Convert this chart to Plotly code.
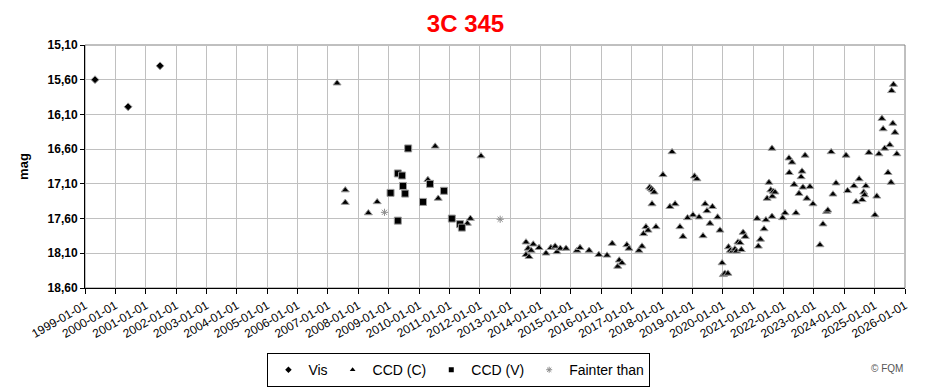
import plotly.graph_objects as go
import pandas as pd

# ---- data (decimal years, magnitudes) ----
vis_t = [1999.33, 2000.42, 2001.47]
vis_m = [15.60, 15.99, 15.40]

ccdc_t = [2007.30, 2007.57, 2007.57, 2008.33, 2008.62, 2010.53, 2010.29, 2010.63, 2012.04, 2011.59, 2011.69,
          2013.52, 2013.59, 2013.52, 2013.62, 2013.69, 2013.76, 2013.95, 2014.18, 2014.34, 2014.48, 2014.54,
          2014.65, 2014.84, 2015.20, 2015.30, 2015.60, 2015.92, 2016.19, 2016.36, 2016.54, 2016.59, 2016.68,
          2016.84, 2016.91, 2017.24, 2017.34, 2017.39, 2017.47, 2017.54, 2017.80, 2017.59, 2017.64, 2017.69,
          2017.74, 2017.67, 2018.03, 2018.33, 2018.26, 2018.43, 2018.59, 2018.69, 2018.84, 2019.02, 2019.07,
          2019.15, 2019.22, 2019.35, 2019.42, 2019.48, 2019.58, 2019.66, 2019.83, 2019.91, 2019.98, 2020.02,
          2020.07, 2020.17, 2020.19, 2020.25, 2020.32, 2020.40, 2020.45, 2020.50, 2020.57, 2020.61, 2020.67,
          2020.74, 2021.13, 2021.17, 2021.24, 2021.36, 2021.42, 2021.46, 2021.52, 2021.58, 2021.63, 2021.66,
          2021.72, 2021.62, 2021.62, 2021.97, 2022.05, 2022.18, 2022.28, 2022.19, 2022.35, 2022.41, 2022.51,
          2022.58, 2022.61, 2022.64, 2022.71, 2022.77, 2022.87, 2022.97, 2023.20, 2023.30, 2023.42, 2023.46,
          2023.57, 2023.63, 2023.73, 2024.06, 2024.11, 2024.32, 2024.39, 2024.49, 2024.59, 2024.64, 2024.67,
          2024.71, 2024.81, 2025.01, 2025.07, 2025.14, 2025.24, 2025.28, 2025.33, 2025.44, 2025.50, 2025.54,
          2025.56, 2025.60, 2025.62, 2025.67, 2025.73]
ccdc_m = [15.65, 17.19, 17.37, 17.52, 17.36, 16.56, 17.04, 17.31, 16.70, 17.67, 17.60,
          17.94, 18.03, 18.12, 18.15, 18.06, 17.97, 18.02, 18.10, 18.02, 18.00, 18.08,
          18.03, 18.03, 18.06, 18.02, 18.06, 18.12, 18.13, 17.96, 18.29, 18.20, 18.24,
          17.98, 18.03, 18.06, 18.00, 17.82, 17.72, 17.77, 17.72, 17.15, 17.17, 17.19,
          17.22, 17.39, 16.97, 16.64, 17.43, 17.39, 17.72, 17.86, 17.59, 17.55, 16.99,
          17.03, 17.58, 17.85, 17.39, 17.49, 17.67, 17.43, 17.58, 17.77, 18.24, 18.41,
          18.39, 18.39, 18.01, 18.06, 18.07, 18.04, 18.07, 17.94, 17.95, 18.05, 17.80,
          17.86, 17.60, 18.00, 17.90, 17.75, 17.62, 17.31, 17.08, 17.19, 17.28, 17.21,
          17.22, 17.57, 16.59, 17.59, 17.52, 16.73, 16.79, 16.94, 17.11, 17.52, 17.24,
          17.00, 16.92, 17.15, 16.69, 17.31, 17.14, 17.39, 17.98, 17.68, 17.50, 17.48,
          16.64, 17.25, 17.09, 16.69, 17.20, 17.13, 17.36, 17.03, 17.33, 17.22, 17.26,
          17.13, 16.65, 17.55, 17.28, 16.67, 16.16, 16.31, 16.59, 16.94, 16.54, 17.08,
          15.76, 16.23, 15.67, 16.36, 16.67]

ccdv_t = [2009.06, 2009.30, 2009.30, 2009.44, 2009.47, 2009.54, 2009.64, 2010.36, 2010.13, 2010.82,
          2011.08, 2011.35, 2011.41]
ccdv_m = [17.23, 17.63, 16.95, 16.98, 17.13, 17.24, 16.59, 17.10, 17.36, 17.20,
          17.60, 17.68, 17.73]

faint_t = [2008.86, 2012.67]
faint_m = [17.51, 17.61]

series_names = ["Vis", "CCD (C)", "CCD (V)", "Fainter than"]
x_ticks = [f"{y}-01-01" for y in range(1999, 2027)]
y_ticks = [15.10, 15.60, 16.10, 16.60, 17.10, 17.60, 18.10, 18.60]
y_ticklabels = ["15,10", "15,60", "16,10", "16,60", "17,10", "17,60", "18,10", "18,60"]


def to_date(years):
    out = []
    for y in years:
        yr = int(y)
        start = pd.Timestamp(f"{yr}-01-01")
        end = pd.Timestamp(f"{yr + 1}-01-01")
        out.append(start + (end - start) * (y - yr))
    return out


FONT = "Liberation Sans, Arial, sans-serif"
SHADOW = "#9a9a9a"
FAINT = "#8c8c8c"

styles = [
    dict(symbol="diamond", size=6, color="black", line=dict(color=SHADOW, width=1)),
    dict(symbol="triangle-up", size=7, color="black", line=dict(color=SHADOW, width=1)),
    dict(symbol="square", size=7, color="black", line=dict(color=SHADOW, width=1)),
    dict(symbol="asterisk-open", size=6, color=FAINT, line=dict(color=FAINT, width=1)),
]
legend_styles = [
    dict(symbol="diamond", size=5, color="black"),
    dict(symbol="triangle-up", size=5, color="black"),
    dict(symbol="square", size=5, color="black"),
    dict(symbol="asterisk-open", size=5, color=FAINT, line=dict(color=FAINT, width=1)),
]
data = [(vis_t, vis_m), (ccdc_t, ccdc_m), (ccdv_t, ccdv_m), (faint_t, faint_m)]

fig = go.Figure()
for (t, m), name, st in zip(data, series_names, styles):
    fig.add_trace(go.Scatter(x=to_date(t), y=m, mode="markers", name=name,
                             marker=st, showlegend=False))
for name, st in zip(series_names, legend_styles):
    fig.add_trace(go.Scatter(x=[None], y=[None], mode="markers", name=name,
                             marker=st, showlegend=True))

fig.update_layout(
    width=931, height=392,
    margin=dict(l=85, r=26, t=45, b=104, autoexpand=False),
    paper_bgcolor="white", plot_bgcolor="white",
    font=dict(family=FONT, color="black"),
    title=dict(text="<b>3C 345</b>", x=0.5, xanchor="center", y=0.94, yanchor="middle",
               font=dict(family=FONT, size=24, color="#ff0000")),
    showlegend=True,
    legend=dict(orientation="h", x=0.456, xanchor="center", y=-0.268, yanchor="top",
                bordercolor="black", borderwidth=1, bgcolor="white",
                font=dict(family=FONT, size=14, color="black"),
                itemwidth=30, traceorder="normal"),
    shapes=[dict(type="rect", xref="paper", yref="paper", x0=0, x1=1, y0=0, y1=1,
                 line=dict(color="#808080", width=1), layer="below")],
    annotations=[dict(text="© FQM", xref="paper", yref="paper", x=1.0, y=-0.33,
                      xanchor="right", yanchor="middle", showarrow=False,
                      font=dict(family=FONT, size=10, color="#555555"))],
)

fig.update_xaxes(
    type="date", range=["1999-01-01", "2026-01-01"], automargin=False,
    tickvals=x_ticks, ticktext=x_ticks, tickangle=-30,
    tickfont=dict(family=FONT, size=12, color="black"),
    showgrid=True, gridcolor="#c0c0c0", gridwidth=1,
    showline=True, linecolor="black", linewidth=1,
    ticks="outside", ticklen=5, tickcolor="black", zeroline=False,
)
fig.update_yaxes(
    range=[18.60, 15.10], automargin=False,
    tickvals=y_ticks, ticktext=y_ticklabels,
    tickfont=dict(family=FONT, size=12, color="black", weight="bold"),
    title=dict(text="<b>mag</b>", font=dict(family=FONT, size=13), standoff=16),
    showgrid=True, gridcolor="#c0c0c0", gridwidth=1,
    showline=True, linecolor="black", linewidth=1,
    ticks="outside", ticklen=4, tickcolor="black", zeroline=False,
)

fig.write_html("out.html")
